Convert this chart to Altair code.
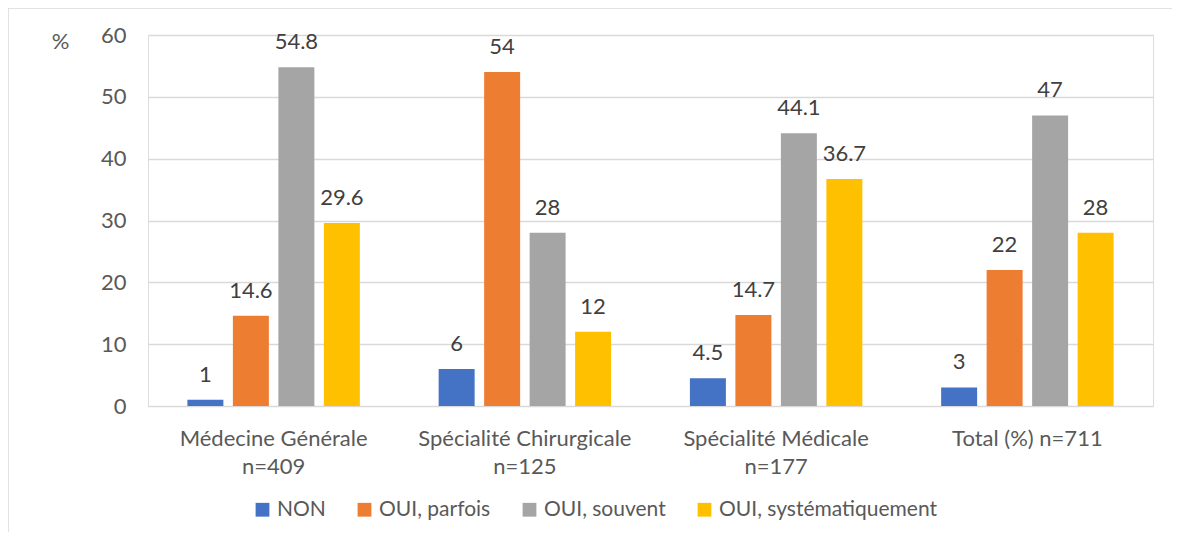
import altair as alt
import pandas as pd

categories = ["Médecine Générale\nn=409", "Spécialité Chirurgicale\nn=125",
              "Spécialité Médicale\nn=177", "Total (%) n=711"]
series = ["NON", "OUI, parfois", "OUI, souvent", "OUI, systématiquement"]
colors = ["#4472C4", "#ED7D31", "#A5A5A5", "#FFC000"]
non = [1, 6, 4.5, 3]
parfois = [14.6, 54, 14.7, 22]
souvent = [54.8, 28, 44.1, 47]
systematique = [29.6, 12, 36.7, 28]

rows = []
for s, vals in zip(series, [non, parfois, souvent, systematique]):
    for c, v in zip(categories, vals):
        rows.append({"cat": c, "serie": s, "val": v, "lab": f"{v:g}"})
df = pd.DataFrame(rows)

FONT = "Lato"
FS = 22

base = alt.Chart(df).encode(
    x=alt.X("cat:N", sort=categories,
            scale=alt.Scale(paddingInner=0, paddingOuter=0),
            axis=alt.Axis(title=None, labelAngle=0, domain=False, ticks=False,
                          labelExpr="split(datum.value, '\\n')", labelLimit=0,
                          labelFontSize=FS, labelColor="#595959", labelFont=FONT,
                          labelPadding=32, labelLineHeight=28, labelBaseline="middle")),
    xOffset=alt.XOffset("serie:N", sort=series,
                        scale=alt.Scale(paddingInner=0.209, paddingOuter=0.866)),
)

bars = base.mark_bar().encode(
    y=alt.Y("val:Q", scale=alt.Scale(domain=[0, 60], nice=False),
            axis=alt.Axis(values=[0, 10, 20, 30, 40, 50, 60], title="%",
                          titleAngle=0, titleX=-88, titleY=6, titleBaseline="middle",
                          titleAlign="center",
                          titleFontSize=FS, titleFontWeight="normal", titleColor="#595959",
                          titleFont=FONT,
                          domain=False, ticks=False, labelFontSize=FS,
                          labelColor="#595959", labelFont=FONT, labelPadding=22,
                          gridColor="#D9D9D9", gridWidth=1.3)),
    color=alt.Color("serie:N", sort=series,
                    scale=alt.Scale(domain=series, range=colors),
                    legend=alt.Legend(title=None, orient="none", legendX=104, legendY=464,
                                      direction="horizontal", columns=4,
                                      symbolType="square", symbolSize=190,
                                      symbolStrokeWidth=0, columnPadding=28,
                                      labelFontSize=21, labelColor="#595959",
                                      labelFont=FONT, labelOffset=4, labelLimit=0)),
)

labels = base.mark_text(baseline="alphabetic", dy=-18, fontSize=FS, color="#404040",
                        font=FONT).encode(
    y=alt.Y("val:Q"),
    text="lab:N",
)

frame_df = pd.DataFrame({"k": [0]})
frame_left = alt.Chart(frame_df).mark_rule(color="#D9D9D9", strokeWidth=1.5).encode(
    x=alt.value(-140), y=alt.value(-27), y2=alt.value(700))
frame_top = alt.Chart(frame_df).mark_rule(color="#D9D9D9", strokeWidth=1.5).encode(
    x=alt.value(-140), x2=alt.value(1100), y=alt.value(-27))

chart = alt.layer(bars, labels, frame_left, frame_top).properties(
    width=1005, height=371,
    autosize=alt.AutoSizeParams(type="none"),
    padding={"left": 140, "top": 27, "right": 19, "bottom": 126},
).configure_view(stroke=None).configure(background="white")

chart.save("out.html", embed_options={"renderer": "svg", "actions": False})
